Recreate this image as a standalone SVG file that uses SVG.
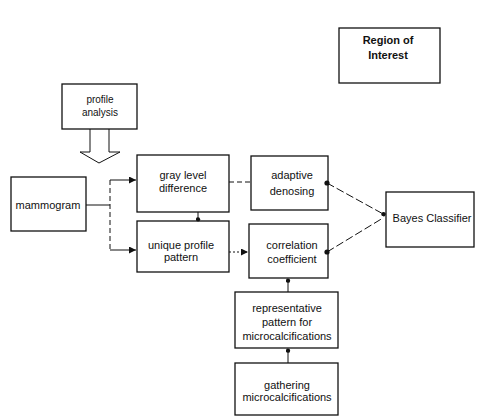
<svg xmlns="http://www.w3.org/2000/svg" width="480" height="416" viewBox="0 0 480 416">
<defs>
<style>
.box{fill:#fff;stroke:#111;stroke-width:1.3}
.t{font-family:"Liberation Sans",Arial,sans-serif;font-size:11px;fill:#111;text-anchor:middle}
.c{fill:none;stroke:#111;stroke-width:1}
.d{fill:none;stroke:#111;stroke-width:1;stroke-dasharray:5 3}
</style>
<marker id="dot" viewBox="0 0 6 6" refX="5" refY="3" markerWidth="5" markerHeight="5" orient="auto" markerUnits="userSpaceOnUse"><circle cx="3" cy="3" r="2.6" fill="#111"/></marker>
<marker id="arr" viewBox="0 0 8 8" refX="8" refY="4" markerWidth="7" markerHeight="7" orient="auto" markerUnits="userSpaceOnUse"><path d="M0,0 L8,4 L0,8 Z" fill="#111"/></marker>
</defs>
<rect width="480" height="416" fill="#fff"/>
<g id="roi"><rect class="box" x="339" y="28" width="101" height="55"/><text class="t" style="font-weight:bold" x="388" y="44">Region of</text><text class="t" style="font-weight:bold" x="388" y="59">Interest</text></g>
<g id="profile"><rect class="box" x="62" y="84" width="75" height="45"/><text class="t" style="font-size:10px" x="100" y="103">profile</text><text class="t" style="font-size:10px" x="100" y="116">analysis</text></g>
<g id="mammogram"><rect class="box" x="11" y="177" width="75" height="54"/><text class="t" x="48" y="209">mammogram</text></g>
<g id="gray"><rect class="box" x="137" y="155" width="92" height="57"/><text class="t" x="183" y="179">gray level</text><text class="t" x="183" y="192">difference</text></g>
<g id="unique"><rect class="box" x="137" y="221" width="92" height="51"/><text class="t" x="181" y="249">unique profile</text><text class="t" x="181" y="261">pattern</text></g>
<g id="adaptive"><rect class="box" x="251" y="156" width="77" height="54"/><text class="t" x="292" y="179">adaptive</text><text class="t" x="292" y="195">denosing</text></g>
<g id="correlation"><rect class="box" x="249" y="224" width="79" height="54"/><text class="t" x="292" y="249">correlation</text><text class="t" x="292" y="263">coefficient</text></g>
<g id="bayes"><rect class="box" x="386" y="192" width="88" height="55"/><text class="t" x="432" y="222">Bayes Classifier</text></g>
<g id="representative"><rect class="box" x="235" y="292" width="103" height="56"/><text class="t" x="287" y="312">representative</text><text class="t" x="287" y="326">pattern for</text><text class="t" x="287" y="340">microcalcifications</text></g>
<g id="gathering"><rect class="box" x="235" y="363" width="103" height="52"/><text class="t" x="287" y="389">gathering</text><text class="t" x="287" y="401">microcalcifications</text></g>
<g id="connectors">
<path class="c" d="M90,129 V152 H80 L99,163 L120,152 H109 V129" fill="#fff"/>
<path class="c" d="M86,205 H110"/>
<path class="d" d="M110,180 V250"/>
<path class="c" d="M110,180 H136" marker-end="url(#arr)"/>
<path class="c" d="M110,250 H136" marker-end="url(#arr)"/>
<path class="c" d="M198,212 V221" marker-end="url(#dot)"/>
<path class="d" d="M229,182 H251"/>
<path class="c" d="M229,252 H248" stroke-dasharray="2 2" marker-end="url(#arr)"/>
<path class="c" d="M327,183 L385,215" stroke-dasharray="8 3" marker-end="url(#dot)"/>
<path class="c" d="M327,252 L383,218" stroke-dasharray="8 3"/>
<circle cx="327" cy="183" r="2.6" fill="#111"/>
<circle cx="327" cy="252" r="2.6" fill="#111"/>
<path class="c" d="M288,292 V279" marker-end="url(#dot)"/>
<path class="c" d="M288,363 V349" marker-end="url(#dot)"/>
</g>
</svg>
